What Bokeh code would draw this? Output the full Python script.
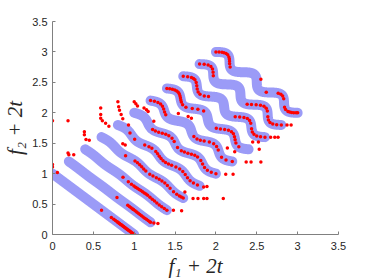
import numpy as np
from bokeh.plotting import figure
from bokeh.models import Range1d, FixedTicker
from bokeh.embed import file_html
from bokeh.resources import INLINE

# time steps t = 0, 0.1, ..., 1 ; each front is shifted by 2t
shift = [0.0, 0.2, 0.4, 0.6, 0.8, 1.0, 1.2, 1.4, 1.6, 1.8, 2.0]
# amplitude of the wavy front at each time step
amp = [0.0, 0.001, 0.004, 0.01, 0.017, 0.025, 0.033, 0.04, 0.045, 0.049, 0.05]
waves = 6

# positions (along each front, 0..1) of the obtained solutions
s0 = [0.6, 0.72, 0.75, 0.77, 0.79, 0.8, 0.81, 0.82, 0.83, 0.84, 0.85, 0.86, 0.87, 0.88, 0.89,
      0.9, 0.91, 0.92, 0.93, 0.94, 0.95, 0.96, 0.97, 0.98, 0.99, 1.0]
s1 = [0.59, 0.72, 0.74, 0.76, 0.78, 0.79, 0.81, 0.83, 0.85, 0.87, 0.89, 0.91, 0.93, 0.95, 0.97, 0.99, 1.0]
s2 = [0.46, 0.53, 0.57, 0.6, 0.62, 0.64, 0.66, 0.68, 0.7, 0.72, 0.74, 0.76, 0.79, 0.82, 0.85,
      0.88, 0.91, 0.94, 0.97, 1.0]
s3 = [0.3, 0.4, 0.43, 0.46, 0.49, 0.52, 0.55, 0.6, 0.635, 0.67, 0.7, 0.73, 0.765, 0.8, 0.84,
      0.89, 0.93, 0.96, 0.98, 1.0]
s4 = [0.14, 0.22, 0.33, 0.37, 0.4, 0.45, 0.48, 0.51, 0.54, 0.57, 0.6, 0.63, 0.66, 0.7, 0.74,
      0.78, 0.82, 0.86, 0.9, 0.94, 0.98]
s5 = [0.25, 0.28, 0.31, 0.34, 0.37, 0.4, 0.44, 0.48, 0.55, 0.6, 0.63, 0.66, 0.69, 0.72, 0.75,
      0.8, 0.84, 0.88, 0.92, 0.96, 1.0]
s6 = [0.0, 0.03, 0.06, 0.09, 0.12, 0.15, 0.18, 0.21, 0.56, 0.6, 0.63, 0.66, 0.7, 0.74, 0.78,
      0.82, 0.9, 0.95, 1.0]
s7 = [0.0, 0.02, 0.04, 0.06, 0.08, 0.1, 0.12, 0.14, 0.16, 0.18, 0.2, 0.23, 0.27, 0.32, 0.36,
      0.41, 0.63, 0.66, 0.69, 0.72, 0.75, 0.78, 0.81, 0.84, 0.87, 0.92]
s8 = [0.0, 0.03, 0.06, 0.08, 0.1, 0.13, 0.16, 0.19, 0.22, 0.25, 0.29, 0.32, 0.65, 0.68, 0.71,
      0.74, 0.77, 0.8, 0.85, 0.88, 0.91, 0.94, 0.97, 1.0]
s9 = [0.0, 0.03, 0.06, 0.09, 0.12, 0.15, 0.18, 0.62, 0.65, 0.68, 0.71, 0.74, 0.77, 0.8, 0.85,
      0.88, 0.91, 0.94, 0.97, 1.0]
s10 = [0.0, 0.02, 0.04, 0.055, 0.075, 0.095, 0.12, 0.14, 0.16, 0.18, 0.21, 0.64, 0.72, 0.745,
       0.77, 0.8, 0.875, 0.9, 0.93, 0.945, 0.96, 0.975, 0.99, 1.0]
sol_pos = [s0, s1, s2, s3, s4, s5, s6, s7, s8, s9, s10]

# obtained solutions lying off the fronts
off_x = [0.0, 0.19,
         0.0, 0.0, 0.06, 0.19, 0.2, 0.26, 1.24, 1.29,
         0.39, 0.39, 0.41, 0.45, 1.48, 1.58,
         0.59, 0.59, 0.59, 0.61, 0.65, 0.69, 0.86, 0.89, 1.62, 1.72, 1.78, 1.85, 1.89, 2.09,
         0.8, 0.81, 0.82, 0.84, 0.86, 0.93, 1.85, 1.89,
         1.0, 1.02, 1.04, 1.12, 1.15, 1.17, 1.24, 2.12, 2.21,
         1.54, 1.66, 1.7, 2.14, 2.23, 2.37, 2.43, 2.55,
         2.45, 2.52, 2.53,
         2.67, 2.72, 2.76,
         2.87, 2.92,
         2.55]
off_y = [1.87, 1.87,
         1.15, 1.11, 1.02, 1.34, 1.31, 1.31, 0.19, 0.18,
         1.69, 1.64, 1.56, 1.55, 0.4, 0.39,
         2.08, 1.97, 1.91, 1.87, 1.83, 1.78, 1.49, 1.47, 0.7, 0.59, 0.59, 0.59, 0.59, 0.59,
         2.18, 2.1, 2.04, 1.97, 1.9, 1.8, 0.78, 0.79,
         2.18, 2.15, 2.11, 2.08, 2.05, 2.02, 1.86, 0.99, 0.99,
         1.99, 1.94, 1.91, 1.42, 1.36, 1.19, 1.19, 1.19,
         1.52, 1.52, 1.4,
         1.6, 1.6, 1.6,
         1.8, 1.8,
         2.55]

tick_vals = [0, 0.5, 1, 1.5, 2, 2.5, 3, 3.5]
tick_labels = ["0", "0.5", "1", "1.5", "2", "2.5", "3", "3.5"]
x_title = "f\u2081 + 2t"
y_title = "f\u2082 + 2t"

p = figure(width=374, height=280, output_backend="svg", toolbar_location=None,
           x_range=Range1d(0, 3.5), y_range=Range1d(0, 3.5),
           min_border_left=49, min_border_right=36, min_border_top=21, min_border_bottom=46)
p.outline_line_color = None
p.grid.visible = False

def front(k, s):
    s = np.asarray(s, dtype=float)
    pert = amp[k] * np.sin(waves * np.pi * s)
    return shift[k] + s + pert, shift[k] + 1 - s + pert

for k in range(len(shift)):
    fx, fy = front(k, np.linspace(0, 1, 400))
    p.line(fx, fy, line_width=10, line_color="#9b9bf7", line_cap="round", line_join="round")

rx, ry = [], []
for k, sl in enumerate(sol_pos):
    fx, fy = front(k, sl)
    rx.extend(fx.tolist())
    ry.extend(fy.tolist())
rx.extend(off_x)
ry.extend(off_y)
p.scatter(rx, ry, size=3.5, fill_color="#ff0000", line_color=None)

labels = dict(zip(tick_vals, tick_labels))
for ax in (p.xaxis[0], p.yaxis[0]):
    ax.ticker = FixedTicker(ticks=tick_vals)
    ax.major_label_overrides = labels
    ax.axis_line_color = "#808080"
    ax.major_tick_line_color = "#808080"
    ax.major_tick_in = 3
    ax.major_tick_out = 0
    ax.minor_tick_line_color = None
    ax.major_label_text_font = "Liberation Sans"
    ax.major_label_text_font_size = "11px"
    ax.major_label_text_color = "#262626"
    ax.axis_label_text_font = "Liberation Serif"
    ax.axis_label_text_font_style = "italic"
    ax.axis_label_text_font_size = "21px"
    ax.axis_label_text_color = "#262626"

p.xaxis.axis_label = x_title
p.yaxis.axis_label = y_title
p.xaxis.major_label_standoff = 7
p.xaxis.axis_label_standoff = 1
p.yaxis.major_label_standoff = 5
p.yaxis.axis_label_standoff = 2

open("out.html", "w").write(file_html(p, INLINE))
